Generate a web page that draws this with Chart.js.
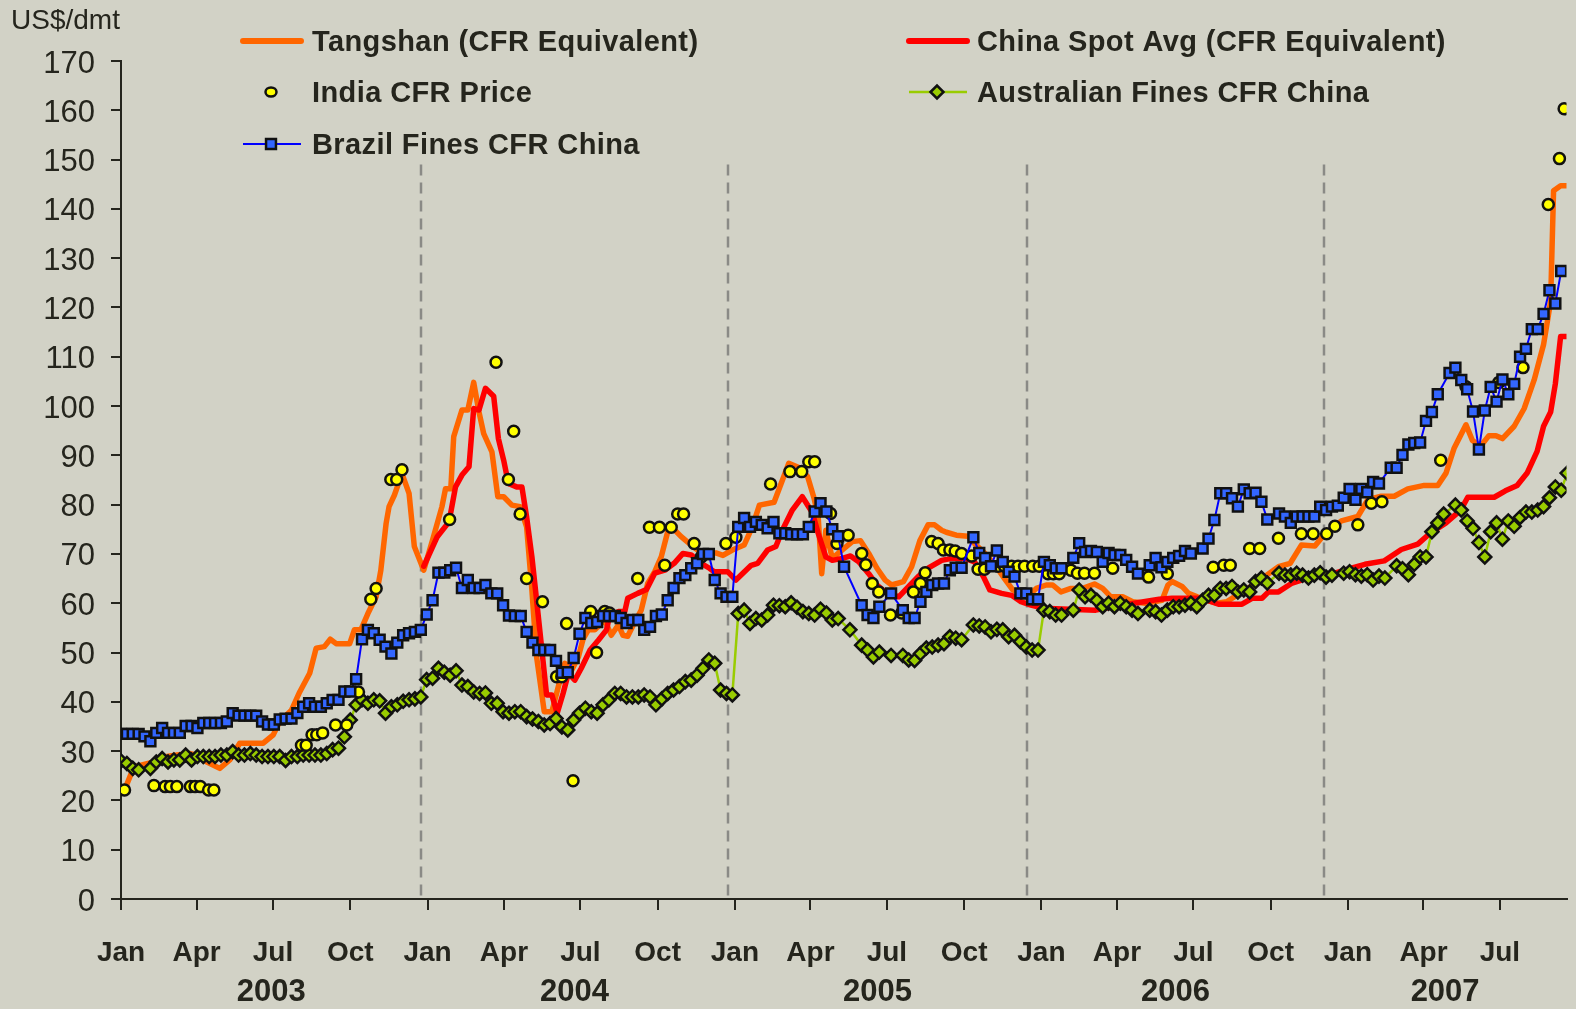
<!DOCTYPE html>
<html>
<head>
<meta charset="utf-8">
<script src="https://cdn.jsdelivr.net/npm/chart.js@4.4.1/dist/chart.umd.min.js"></script>
<style>
  html, body { margin: 0; padding: 0; background: #d2d2c6; }
</style>
</head>
<body>
<canvas id="chart" width="1576" height="1009"></canvas>
<script>
// x values are weeks since 1 Jan 2003
const X_MAX = 245.9;
const monthLabels = ['Jan', 'Apr', 'Jul', 'Oct'];
const yearLabels = ['2003', '2004', '2005', '2006', '2007'];
// dashed year separators (week index)
const dividerWeeks = [51.1, 103.2, 154.2, 204.6];

const tangshanWeeks = [0.6, 2.2, 5.6, 7.8, 9.5, 11.8, 12.9, 14.6, 16.8, 18.5, 20.2, 24.2, 25.9, 27, 29, 30.4, 32.1, 33.2, 34.6, 35.6, 36.6, 38.9, 39.7, 40.8, 42, 43.4, 44.2, 45.1, 45.6, 46.5, 47.8, 49, 49.9, 51.5,
  53, 54.6, 55.2, 56.1, 56.6, 58, 59, 60, 60.9, 61.7, 63.1, 64.1, 65.1, 66.5, 67.9, 69, 69.9, 70.7, 72, 73.3, 74.4, 75.5, 76.7, 77.8, 78.6, 79.5, 80.6, 82.3, 83.4, 84.6, 85.4, 86.2, 87.4, 88.5, 89.6, 90.8, 91.9, 93, 93.9, 95.3, 96.7, 98.1, 99.5, 101.2, 102.4,
  104, 106, 107.4, 108.6, 111.1, 113.6, 115.6, 116.8, 117.9, 118.6, 119.2, 119.9, 121, 122.4, 124.4, 125.8, 127.2, 128.6, 130, 131.1, 133.1, 134.5, 135.9, 137.3, 138.4, 139.6, 140.4, 142.1, 144.1, 145.2, 147, 148.9, 150.3, 151.7, 152.6, 154.3,
  155.7, 157.4, 158.5, 159.9, 161.6, 163.6, 165.6, 167, 168.4, 170.4, 172.1, 174.3, 177.1, 178.1, 178.8, 180.5, 181.6, 183.1, 184.8, 186.4, 188.1, 190.7, 192.6, 194.9, 196.9, 198.9, 200.8, 203.1,
  204.8, 207.6, 210.4, 212.1, 214.4, 216.6, 218.9, 221.7, 224, 225.4, 226.8, 228.8, 229.9, 231.3, 232.7, 233.9, 235, 237, 238.7, 240.4, 242, 243.2, 243.7, 244.9, 246];
const tangshanPrice = [22.1, 26.8, 27.8, 28.9, 29.2, 29.5, 29.2, 27.8, 26.5, 28.2, 31.6, 31.6, 33.3, 36, 38.3, 42, 45.8, 50.9, 51.2, 52.7, 51.8, 51.8, 54.6, 54.6, 57.9, 61.3, 66.7, 76.2, 79.6, 81.9, 86.3, 82.3, 71.5, 66.7,
  72.8, 79.6, 83.2, 83.2, 93.8, 99.2, 99.2, 104.8, 98.8, 94.4, 90.7, 81.6, 81.6, 79.9, 79.6, 75.5, 62.7, 49.1, 38, 38, 43.1, 47.8, 46.5, 49.1, 52.7, 54.6, 54.6, 56.6, 53.5, 55.6, 53.5, 53.3, 56.2, 58.6, 64, 66.4, 69.4, 74.5, 75.2, 73.5, 72.1, 70.8, 70.2, 70.2, 69.7,
  70.8, 71.8, 75.5, 79.9, 80.5, 88.4, 87.4, 85.7, 81.3, 77.5, 66, 74.8, 69.1, 70.5, 72.5, 72.7, 70.1, 67.1, 64.7, 63.7, 64.4, 67.4, 72.7, 75.9, 75.9, 74.8, 74.4, 73.8, 73.6, 72.1, 70.1, 67.4, 65, 62.7, 62.3, 61.5,
  63, 63.7, 63.7, 62.3, 63, 63, 63.9, 63, 61.3, 61.3, 60.3, 60, 60.6, 63.7, 64.4, 63.4, 62, 61.3, 60.6, 60, 60.3, 62.3, 63.7, 65.7, 67.4, 68.1, 71.8, 71.6,
  74.1, 76.7, 77.6, 81, 81.7, 81.7, 83.2, 83.9, 83.9, 86.4, 91.5, 96.2, 93, 91.9, 94, 94, 93.4, 95.9, 99.5, 105.3, 112.5, 121.2, 143.7, 144.7, 144.7];

const chinaSpotWeeks = [51.5, 53.8, 55.8, 56.9, 58, 59.2, 60, 60.9, 62, 63.4, 64.2, 65.1, 65.9, 67.3, 68.2, 69, 69.9, 70.7, 71.6, 72.4, 73.3, 74.2, 75.2, 76.1, 77.2, 78.3, 79.8, 81.2, 82.6, 83.1, 84.6, 85.7, 86.2, 87.9, 89.4, 90.8, 92.5, 94.1, 95.6, 97, 98.7, 100.1, 100.9, 103.2,
  104.6, 107.2, 108.3, 110, 111.4, 112.5, 114.2, 115.9, 117.6, 118.6, 119.9, 121, 122.7, 124.1, 125.5, 127.2, 128.6, 130, 132.3, 134, 135.6, 137.3, 139.6, 141.3, 143.6, 145.2, 146.7, 147.8, 149.8, 151.5, 153.1, 154.8,
  156.8, 165.8, 169.2, 176.6, 178.8, 183.9, 186.7, 190.7, 192.4, 194.1, 195.2, 196.9, 199.1, 200.8, 203.1,
  206.5, 208.7, 211.6, 214.9, 217.8, 220.6, 222.6, 225.4, 227.9, 229.1, 233.6, 235.5, 237.5, 239.2, 240.9, 242, 243.2, 244, 244.9, 246];
const chinaSpotPrice = [67.5, 73.5, 76.5, 83.6, 86, 87.7, 99.5, 99.2, 103.6, 102, 93.4, 89, 84.3, 83.6, 83.6, 77.5, 69.4, 60.6, 50.5, 41.4, 41.4, 37.7, 41.7, 45.8, 44.4, 46.8, 50.5, 52.5, 54.6, 57.4, 58.3, 58.3, 61, 62, 62.8, 66.1, 66.7, 68.1, 70.1, 69.8, 68.1, 67.1, 66.4, 66.4,
  64.7, 67.7, 68.1, 70.8, 71.5, 74.8, 78.9, 81.6, 78.4, 74.2, 69.4, 68.7, 69.1, 69.6, 68.4, 66, 63.7, 62.3, 61.3, 63.4, 65.4, 67.1, 68.7, 69.1, 69.1, 68.4, 65.4, 62.7, 62, 61.6, 60.3, 59.6,
  59, 58.6, 59.4, 60.8, 61, 61, 59.8, 59.8, 61, 61, 62.3, 62.3, 64, 64.7, 65.6,
  66.1, 66.9, 67.9, 68.6, 70.9, 72, 74.1, 76.3, 78.9, 81.5, 81.5, 82.8, 83.9, 86.4, 90.8, 95.9, 98.8, 104.5, 114.1, 114.1];

const indiaWeeks = [0.6, 5.6, 7.5, 8.4, 9.5, 11.8, 12.6, 13.5, 14.9, 15.8, 30.7, 31.5, 32.5, 33.3, 34.3, 36.5, 38.4, 40.4, 42.5, 43.4, 45.9, 46.9, 47.8,
  55.9, 63.8, 65.9, 66.8, 67.9, 69, 71.7, 74.1, 75, 75.8, 76.9, 79.9, 80.9, 82.3, 83.1, 87.9, 89.9, 91.6, 92.5, 93.6, 94.7, 95.7, 97.5, 98.7, 102.9, 104.6,
  110.5, 113.8, 115.8, 117, 118, 120.7, 121.8, 123.7, 126, 126.7, 127.8, 128.9, 130.9, 132.8, 134.8, 136, 136.8, 137.9, 139, 139.9, 141, 141.9, 143, 144.7, 145.8, 146.9, 149.2, 150.3, 151.5, 152.6, 153.7, 155.1, 156.2,
  157.7, 158.6, 159.6, 161.6, 162.7, 163.9, 165.6, 168.7, 174.8, 178, 185.8, 187.6, 188.7, 192, 193.7, 196.9, 200.8, 202.8, 205.1,
  206.5, 210.4, 212.7, 214.5, 224.5, 228.8, 234.4, 238.5, 242.8, 244.7, 245.5];
const indiaPrice = [22.1, 23, 22.8, 22.8, 22.8, 22.8, 22.8, 22.8, 22.1, 22.1, 31.2, 31.2, 33.3, 33.3, 33.7, 35.3, 35.3, 42, 60.8, 63, 85.1, 85.1, 87.1,
  77, 108.9, 85.1, 94.9, 78.1, 65, 60.3, 45.1, 45.1, 55.9, 24, 58.3, 50, 58.3, 58, 65, 75.4, 75.4, 67.7, 75.4, 78.1, 78.1, 72.1, 69.4, 72.1, 73.4,
  84.2, 86.7, 86.7, 88.7, 88.7, 78.2, 72.1, 73.8, 70.1, 67.8, 64, 62.3, 57.6, 58, 62.3, 64, 66.2, 72.5, 72.1, 70.8, 70.8, 70.6, 70.1, 69.6, 66.9, 66.9, 67.5, 67.5, 67.5, 67.5, 67.5, 67.5, 67.5,
  66, 66, 66, 66.7, 66.1, 66.1, 66.1, 67.1, 65.3, 66, 67.3, 67.7, 67.7, 71.1, 71.1, 73.2, 74.1, 74.1, 74.1,
  75.6, 75.9, 80.3, 80.6, 89, 103.9, 104.8, 107.8, 140.9, 150.2, 160.3];

// weekly, index = week number (null = no quote that week)
const australianFines = [
  28, 27.5, 26.5, 26.2, null, 26.5, 27.8, 28.5, 27.8, 28.2,
  28.2, 29.2, 28.2, 28.9, 28.9, 28.9, 28.9, 29.2, 29.2, 29.9,
  29.2, 29.2, 29.5, 29.2, 28.9, 28.9, 28.9, 28.9, 28.1, 28.9,
  28.9, 29.2, 29.2, 29.2, 29.2, 29.5, 30.3, 30.6, 32.9, 36.3,
  39.4, 40.4, 39.7, 40.4, 40.2, 37.7, 39, 39.4, 40.1, 40.4,
  40.6, 41, 44.5, 44.8, 46.8, 46, 45.4, 46.3, 43.4, 43.1,
  42, 41.7, 41.8, 39.7, 39.7, 38, 37.7, 38, 38, 37,
  36.5, 36, 35.3, 35.6, 36.6, 34.9, 34.3, 36.3, 37.7, 38.7,
  38, 37.7, 39.4, 40.4, 41.7, 41.7, 41, 41, 41, 41.4,
  41, 39.4, 40.6, 41.7, 42.4, 43.1, 44.1, 44.4, 45.4, 46.8,
  48.5, 47.8, 42.4, 41.7, 41.4, 57.9, 58.6, 55.9, 56.9, 56.6,
  57.6, 59.6, 59.5, 59.3, 60.1, 59.2, 58.3, 57.9, 57.6, 58.8,
  58, 56.6, 56.9, null, 54.6, null, 51.5, 50.5, 49.1, 50.1,
  null, 49.4, null, 49.4, 48.5, 48.4, 49.8, 50.9, 51.1, 51.5,
  51.8, 53.2, 52.9, 52.6, null, 55.6, 55.4, 55.2, 54.2, 54.7,
  54.6, 53.2, 53.5, 52.2, 51.1, 50.5, 50.5, 58.6, 58.3, 57.6,
  57.6, null, 58.6, 62.7, 61.3, 61.6, 60.6, 59.3, 60, 59.3,
  60, 59.3, 58.6, 57.9, null, 58.6, 58.3, 57.6, 58.6, 59.3,
  59.3, 59.6, 60, 59.3, 60.6, 61.6, 61.6, 63, 63, 63.4,
  62.3, 62.7, 62.3, 64.4, 65.1, 64.1, null, 66.1, 65.7, 65.7,
  66.1, 65.7, 65.1, 65.7, 66.2, 65.3, 65.7, null, 66.1, 66.4,
  65.8, 65.5, 65.8, 64.7, 65.5, 65.1, null, 67.6, 67, 65.8,
  67.9, 69.4, 69.4, 74.5, 76.3, 78.1, null, 79.9, 78.9, 76.7,
  75.2, 72.3, 69.4, 74.5, 76.3, 73, 76.7, 75.6, 77.4, 78.5,
  78.5, 78.9, 79.6, 81.4, 83.6, 82.9, 86.4
];

const brazilFines = [
  33.5, 33.5, 33.5, 33.5, 33, 32, 33.7, 34.7, 33.7, 33.7,
  33.7, 35.1, 35.1, 34.7, 35.7, 35.7, 35.7, 35.7, 36, 37.7,
  37.2, 37.2, 37.2, 37.2, 36, 35.4, 35.4, 36.4, 36.6, 36.6,
  37.7, 39, 39.7, 39, 39, 39.7, 40.4, 40.4, 42.1, 42.1,
  44.6, 52.7, 54.6, 53.9, 52.6, 51.2, 49.8, 52, 53.5, 53.9,
  54.2, 54.6, 57.7, 60.6, 66.2, 66.2, 66.7, 67.2, 63.1, 64.7,
  63.1, 63.1, 63.7, 62, 62, 59.6, 57.5, 57.4, 57.4, 54.2,
  52, 50.5, 50.5, 50.5, 48.3, 45.9, 46, 48.9, 53.8, 57,
  56, 56.2, 57.4, 57.4, 57.4, 57, 56, 56.6, 56.6, 54.6,
  55.2, 57.4, 57.7, 60.6, 63.1, 65.1, 65.7, 67.1, 68.1, 70,
  70, 64.7, 62, 61.3, 61.3, 75.5, 77.3, 75.5, 76.5, 75.9,
  75.2, 76.5, 74.2, 74.2, 74, 74, 74, 75.5, 78.6, 80.3,
  78.6, 75, 73.6, 67.4, null, null, 59.6, 57.6, 57, 59.3,
  null, 62, null, 58.6, 57, 57, 60.3, 62.3, 63.7, 64,
  64, 66.7, 67.2, 67.2, null, 73.4, 70.2, 69.2, 67.5, 70.7,
  68.4, 66.4, 65.4, 62, 62, 60.8, 60.8, 68.4, 67.7, 67.1,
  67.1, null, 69.2, 72.2, 70.4, 70.6, 70.4, 68.4, 70.2, 69.8,
  69.8, 68.8, 67.4, 66, null, 67.7, 69.2, 67.3, 68.4, 69.2,
  69.6, 70.6, 70.1, null, 71.1, 73.1, 76.9, 82.3, 82.3, 81.3,
  79.6, 83.1, 82.3, 82.4, 80.6, 77, null, 78.2, 77.6, 76.3,
  77.6, 77.6, 77.6, 77.6, 79.6, 78.9, 79.6, 79.8, 81.4, 83.2,
  81, 83.2, 82.5, 84.6, 84.3, null, 87.5, 87.5, 90.1, 92.2,
  92.5, 92.6, 97, 98.8, 102.4, null, 106.7, 107.8, 105.3, 103.4,
  98.9, 91.2, 99.1, 103.9, 100.9, 105.4, 102.4, 104.5, 110, 111.6,
  115.6, 115.6, 118.7, 123.5, 120.8, 127.4
];

const TEXT = '#25251d';
const FONT = '"Liberation Sans", Arial, sans-serif';

const pairs = (xs, ys) => xs.map((x, i) => ({ x: x, y: ys[i] }));
const weekly = ys => ys.map((y, i) => ({ x: i, y: y })).filter(p => p.y !== null);

// quarter tick positions from calendar dates
const startUTC = Date.UTC(2003, 0, 1);
const weekOf = (y, m) => (Date.UTC(y, m, 1) - startUTC) / 864e5 / 7;
const quarterTicks = [];
for (let y = 2003; y <= 2007; y++) {
  for (let m = 0; m < 12; m += 3) {
    if (weekOf(y, m) <= X_MAX) quarterTicks.push(weekOf(y, m));
  }
}
const bounds = [0].concat(dividerWeeks, [X_MAX]);
const yearTicks = yearLabels.map((_, i) => (bounds[i] + bounds[i + 1]) / 2);

const datasets = [
  {
    label: 'Tangshan (CFR Equivalent)',
    data: pairs(tangshanWeeks, tangshanPrice),
    borderColor: '#ff6600', borderWidth: 5.5, pointRadius: 0,
    borderJoinStyle: 'round', borderCapStyle: 'round', order: 5
  },
  {
    label: 'China Spot Avg (CFR Equivalent)',
    data: pairs(chinaSpotWeeks, chinaSpotPrice),
    borderColor: '#ff0000', borderWidth: 5.5, pointRadius: 0,
    borderJoinStyle: 'round', borderCapStyle: 'round', order: 4
  },
  {
    label: 'India CFR Price',
    data: pairs(indiaWeeks, indiaPrice),
    showLine: false, pointStyle: 'circle', pointRadius: 5.5,
    pointBackgroundColor: '#ffff00', pointBorderColor: '#111', pointBorderWidth: 2.5, order: 2
  },
  {
    label: 'Australian Fines CFR China',
    data: weekly(australianFines),
    borderColor: '#99cc00', borderWidth: 2.5, pointStyle: 'rectRot', pointRadius: 6.5,
    pointBackgroundColor: '#99cc00', pointBorderColor: '#111', pointBorderWidth: 2.5, order: 3
  },
  {
    label: 'Brazil Fines CFR China',
    data: weekly(brazilFines),
    borderColor: '#0000ff', borderWidth: 2, pointStyle: 'rect', pointRadius: 7,
    pointBackgroundColor: '#3366ff', pointBorderColor: '#111', pointBorderWidth: 2.5, order: 1
  }
];

// legend layout: [dataset index, swatch left, text left, y]
const legendSlots = [
  [0, 241, 312, 42],
  [2, 241, 312, 93],
  [4, 241, 312, 145],
  [1, 907, 977, 42],
  [3, 907, 977, 93]
];

function marker(ctx, ds, x, y) {
  const r = ds.pointRadius;
  ctx.save();
  ctx.fillStyle = ds.pointBackgroundColor;
  ctx.strokeStyle = ds.pointBorderColor;
  ctx.lineWidth = ds.pointBorderWidth;
  ctx.beginPath();
  if (ds.pointStyle === 'circle') {
    ctx.ellipse(x, y, r, r - 1, 0, 0, Math.PI * 2);
  } else if (ds.pointStyle === 'rect') {
    const s = r * Math.SQRT1_2;
    ctx.rect(x - s, y - s, 2 * s, 2 * s);
  } else {
    ctx.moveTo(x - r, y); ctx.lineTo(x, y - r); ctx.lineTo(x + r, y); ctx.lineTo(x, y + r); ctx.closePath();
  }
  ctx.fill();
  ctx.stroke();
  ctx.restore();
}

const extras = {
  id: 'extras',
  beforeDatasetsDraw(chart) {
    const ctx = chart.ctx, x = chart.scales.x, y = chart.scales.y;
    ctx.save();
    ctx.strokeStyle = '#8a8a86';
    ctx.lineWidth = 2.5;
    ctx.setLineDash([11, 7]);
    dividerWeeks.forEach(w => {
      const px = Math.round(x.getPixelForValue(w));
      ctx.beginPath();
      ctx.moveTo(px, y.getPixelForValue(149));
      ctx.lineTo(px, y.getPixelForValue(0));
      ctx.stroke();
    });
    ctx.restore();
  },
  afterDraw(chart) {
    const ctx = chart.ctx;
    ctx.save();
    ctx.fillStyle = TEXT;
    ctx.textBaseline = 'middle';
    ctx.font = '28px ' + FONT;
    ctx.fillText('US$/dmt', 11, 21);

    legendSlots.forEach(([i, sx, tx, ly]) => {
      const ds = chart.data.datasets[i];
      if (ds.showLine !== false) {
        ctx.save();
        ctx.strokeStyle = ds.borderColor;
        ctx.lineWidth = ds.pointRadius ? ds.borderWidth : 6;
        ctx.lineCap = ds.pointRadius ? 'butt' : 'round';
        ctx.beginPath();
        ctx.moveTo(sx + 2, ly - 1);
        ctx.lineTo(sx + 60, ly - 1);
        ctx.stroke();
        ctx.restore();
      }
      if (ds.pointRadius) marker(ctx, ds, sx + 30, ly - 1);
      ctx.fillStyle = TEXT;
      ctx.font = 'bold 29px ' + FONT;
      ctx.letterSpacing = '0.4px';
      ctx.fillText(ds.label, tx, ly + 1);
      ctx.letterSpacing = '0px';
    });
    ctx.restore();
  }
};

new Chart(document.getElementById('chart'), {
  type: 'line',
  data: { datasets: datasets },
  options: {
    responsive: false,
    animation: false,
    events: [],
    layout: { padding: { top: 61, right: 3, left: 0, bottom: 0 } },
    plugins: { legend: { display: false }, tooltip: { enabled: false } },
    scales: {
      x: {
        type: 'linear', position: 'bottom', min: 0, max: X_MAX,
        afterBuildTicks: s => { s.ticks = quarterTicks.map(v => ({ value: v })); },
        afterFit: s => { s.height = 70; },
        ticks: {
          autoSkip: false, maxRotation: 0, padding: 26, color: TEXT,
          font: { family: FONT, size: 28, weight: 'bold' },
          callback: (v, i) => monthLabels[i % 4]
        },
        grid: { drawOnChartArea: false, drawTicks: true, tickLength: 11, color: TEXT, lineWidth: 2 },
        border: { color: TEXT, width: 2 }
      },
      x2: {
        type: 'linear', position: 'bottom', min: 0, max: X_MAX,
        afterBuildTicks: s => { s.ticks = yearTicks.map(v => ({ value: v })); },
        afterFit: s => { s.height = 40; },
        ticks: {
          autoSkip: false, maxRotation: 0, padding: 5, color: TEXT,
          font: { family: FONT, size: 31, weight: 'bold' },
          callback: (v, i) => yearLabels[i]
        },
        grid: { display: false, drawTicks: false },
        border: { display: false }
      },
      y: {
        min: 0, max: 170,
        afterFit: s => { s.width = 121; },
        ticks: {
          stepSize: 10, padding: 16, labelOffset: 3, color: TEXT,
          font: { family: FONT, size: 31 }
        },
        grid: { drawOnChartArea: false, tickLength: 10, color: TEXT, lineWidth: 2 },
        border: { color: TEXT, width: 2 }
      }
    }
  },
  plugins: [extras]
});
</script>
</body>
</html>
